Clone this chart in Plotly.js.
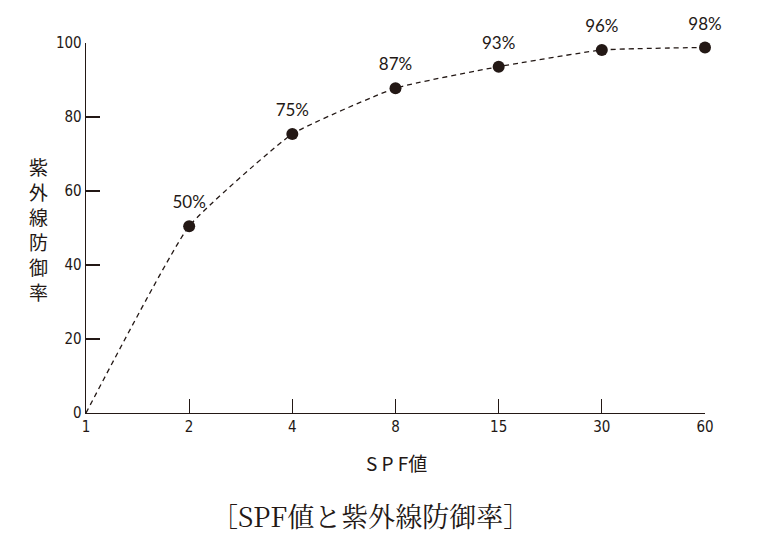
<!DOCTYPE html>
<html>
<head>
<meta charset="utf-8">
<script src="https://cdn.plot.ly/plotly-3.0.1.min.js"></script>
<style>
  html, body { margin: 0; padding: 0; background: #fff; }
  #chart { width: 784px; height: 547px; }
</style>
</head>
<body>
<div id="chart"></div>
<script>
// SPF値ごとの紫外線防御率
const spf = ['1', '2', '4', '8', '15', '30', '60'];
const protection = [0, 50.5, 75.4, 87.8, 93.6, 98.1, 98.8];
const pctLabels = ['', '50%', '75%', '87%', '93%', '96%', '98%'];
const yTicks = [0, 20, 40, 60, 80, 100];
const yTitleChars = ['紫', '外', '線', '防', '御', '率'];

const ink = '#231815';
const numFont = '"Liberation Sans Narrow", "DejaVu Sans Condensed", "Roboto", sans-serif';
const jpFont = '"Noto Sans CJK JP", sans-serif';

const curve = {
    x: spf,
    y: protection,
    type: 'scatter',
    mode: 'lines+markers',
    line: { color: ink, width: 1.3, dash: '5px,4px', shape: 'spline', smoothing: 0.4 },
    marker: {
        color: ink, opacity: 1, line: { width: 0 },
        size: spf.map((s, i) => i === 0 ? 0 : 12)
    },
    cliponaxis: false,
    hoverinfo: 'skip'
};

// 値ラベル（点の少し上）
const labels = {
    x: spf,
    y: protection,
    type: 'scatter',
    mode: 'markers+text',
    text: pctLabels,
    textposition: 'top center',
    textfont: { family: '"Lato", "Noto Sans", sans-serif', size: 17, color: ink },
    marker: { size: 20, opacity: 0 },
    cliponaxis: false,
    hoverinfo: 'skip'
};

const yTitle = yTitleChars.map((ch, i) => ({
    text: ch,
    xref: 'paper', yref: 'paper', x: -0.0775, y: 1,
    yshift: -(166 - 43) - i * 25,
    xanchor: 'center', yanchor: 'middle', showarrow: false,
    font: { family: jpFont, size: 19, color: ink }
}));

const layout = {
    width: 784,
    height: 547,
    margin: { l: 86, r: 79, t: 43, b: 134 },
    paper_bgcolor: '#fff',
    plot_bgcolor: '#fff',
    showlegend: false,
    font: { family: numFont, size: 15, color: ink },
    xaxis: {
        type: 'category',
        range: [0, spf.length - 1],
        showline: true, linecolor: ink, linewidth: 1.3,
        ticks: 'inside', ticklen: 14, tickwidth: 1.2, tickcolor: ink,
        showgrid: false, zeroline: false, fixedrange: true,
        tickfont: { family: numFont, size: 15, color: ink }
    },
    yaxis: {
        range: [0, 100],
        tickvals: yTicks,
        showline: true, linecolor: ink, linewidth: 1.3,
        ticks: 'inside', ticklen: 14, tickwidth: 1.2, tickcolor: ink,
        showgrid: false, zeroline: false, fixedrange: true,
        tickfont: { family: numFont, size: 15, color: ink }
    },
    annotations: yTitle.concat([
        {
            text: 'S P F値',
            xref: 'paper', yref: 'paper', x: 0.502, y: -0.135,
            xanchor: 'center', yanchor: 'middle', showarrow: false,
            font: { family: jpFont, size: 19, color: ink }
        },
        {
            text: '［SPF値と紫外線防御率］',
            xref: 'paper', yref: 'paper', x: 0.459, y: -0.276,
            xanchor: 'center', yanchor: 'middle', showarrow: false,
            font: { family: '"Noto Serif CJK JP", "Noto Sans CJK JP", serif', size: 27, color: ink }
        }
    ])
};

Plotly.newPlot('chart', [curve, labels], layout, { staticPlot: true });
</script>
</body>
</html>
